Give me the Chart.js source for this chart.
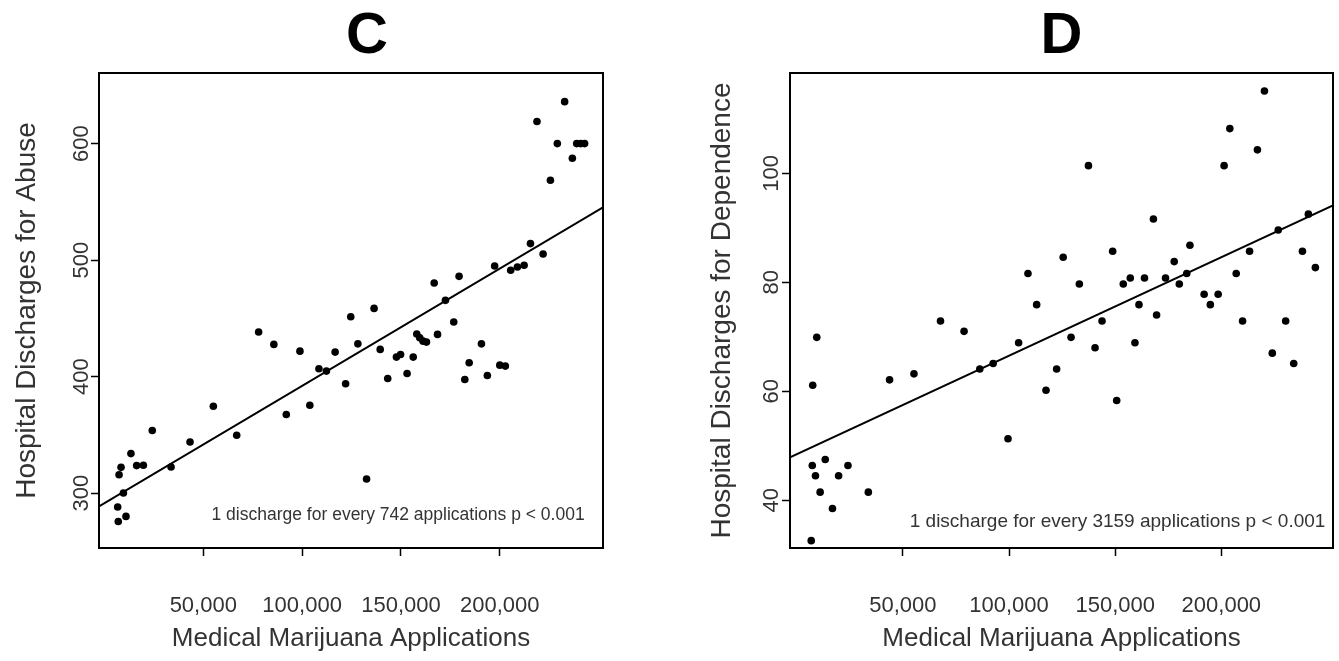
<!DOCTYPE html>
<html><head><meta charset="utf-8">
<script src="https://cdn.jsdelivr.net/npm/chart.js@4.4.1/dist/chart.umd.min.js"></script>
<style>
html,body{margin:0;padding:0;background:#fff;}
#wrap{position:relative;width:1339px;height:661px;overflow:hidden;background:#fff;}
.cv{position:absolute;top:0;}
</style></head><body>
<div id="wrap">
<div class="cv" style="left:0px"><canvas id="cC" width="680" height="661"></canvas></div>
<div class="cv" style="left:680px"><canvas id="cD" width="659" height="661"></canvas></div>
</div>
<script>
// ---------- Panel C: abuse ----------
const abuseApps = [232800,218800,229100,238900,240900,242900,236700,225600,215500,221900,197400,205500,208900,212300,179400,166800,172500,136400,124600,176700,78000,85700,98900,116700,128200,139500,158000,159500,161200,162900,168500,147700,149800,156200,153100,143300,190700,184500,182300,193700,200000,202800,108500,112300,122000,103900,92000,55100,66900,43300,24200,33700,13400,16300,19700,8400,7400,9600,6700,7000,10900,132600];
const abuseDischarges = [636,619,600,600,600,600,587.5,568.6,514.2,505.3,495.0,491.3,494.1,495.6,486.1,480.4,465.5,458.6,451.5,446.9,438.3,427.7,421.9,421.1,428.2,423.4,436.6,433.4,430.5,429.7,436.3,416.8,419.1,416.8,402.7,398.4,428.2,411.9,397.6,401.0,409.9,409.1,406.8,404.8,393.9,375.5,367.5,374.7,349.8,344.0,353.8,322.5,334.0,323.7,324.0,322.2,315.9,300.2,288.2,275.8,280.1,312.2];
const abuseFitX = [-2750, 252200];
const abuseFitY = [288.6, 545.4];
const abuseYTicks = [300, 400, 500, 600];
const abuseNote = "1 discharge for every 742 applications p < 0.001";
const abuseNoteAt = [242900, 281];

// ---------- Panel D: dependence ----------
const depApps = [220300,204000,217000,201300,137400,168000,241000,226800,185200,148800,125500,213300,238200,177800,244300,108900,183700,207000,157100,163800,173700,133100,153800,180200,191900,198500,194800,161200,113000,169500,143800,210000,230300,67700,78800,129200,9400,104500,159300,140500,224000,92500,234100,86200,122400,43700,55200,7500,117400,150700,99500,13400,7300,24100,8800,19700,11000,33700,16800,6800];
const depDischarges = [115.1,108.2,104.3,101.4,101.4,91.6,92.5,89.6,86.8,85.7,84.6,85.7,85.7,83.8,82.7,81.6,81.6,81.6,80.8,80.8,80.8,79.7,79.7,79.7,77.8,77.8,75.9,75.9,75.9,74.0,72.9,72.9,72.9,72.9,71.0,69.9,69.9,68.9,68.9,68.0,67.0,65.1,65.1,64.1,64.1,62.1,63.2,61.1,60.2,58.3,51.3,47.5,46.4,46.4,44.5,44.5,41.5,41.5,38.5,32.6];
const depFitX = [-3200, 252600];
const depFitY = [47.9, 94.1];
const depYTicks = [40, 60, 80, 100];
const depNote = "1 discharge for every 3159 applications p < 0.001";
const depNoteAt = [249000, 36];

// ---------- shared x axis ----------
const xTickValues = [50000, 100000, 150000, 200000];
const xTickLabels = ["50,000", "100,000", "150,000", "200,000"];

const FONT = "'Liberation Sans', Arial, sans-serif";
Chart.defaults.font.family = FONT;
Chart.defaults.color = '#333';

const boxPlugin = {
  id: 'box',
  afterDraw(chart) {
    const {ctx, chartArea: a} = chart;
    const o = chart.options.plugins.panel;
    ctx.save();
    ctx.strokeStyle = '#000';
    ctx.lineWidth = 2;
    ctx.strokeRect(a.left, a.top, a.right - a.left, a.bottom - a.top);
    // panel letter
    ctx.fillStyle = '#000';
    ctx.font = "bold 58px " + FONT;
    ctx.textAlign = 'center';
    ctx.textBaseline = 'middle';
    ctx.fillText(o.letter, (a.left + a.right) / 2 + o.letterDx, 37);
    // note
    const xs = chart.scales.x, ys = chart.scales.y;
    ctx.fillStyle = '#333';
    ctx.font = o.noteSize + "px " + FONT;
    ctx.textAlign = 'right';
    ctx.fillText(o.note, xs.getPixelForValue(o.noteAt[0]), ys.getPixelForValue(o.noteAt[1]));
    ctx.restore();
  }
};

function makeChart(id, cfg) {
  const pts = cfg.xs.map((x, i) => ({x, y: cfg.ys[i]}));
  const fit = cfg.fitX.map((x, i) => ({x, y: cfg.fitY[i]}));
  return new Chart(document.getElementById(id), {
    type: 'scatter',
    data: {
      datasets: [
        {data: pts, pointRadius: 3.8, pointHoverRadius: 3.8, backgroundColor: '#000', borderWidth: 0, showLine: false},
        {data: fit, showLine: true, borderColor: '#000', borderWidth: 2, pointRadius: 0, fill: false}
      ]
    },
    plugins: [boxPlugin],
    options: {
      responsive: false,
      animation: false,
      devicePixelRatio: 1,
      layout: {padding: {left: 0, right: cfg.padRight, top: 73, bottom: 0}},
      plugins: {
        legend: {display: false},
        tooltip: {enabled: false},
        title: {display: false},
        panel: {letter: cfg.title, letterDx: cfg.titleDx, note: cfg.note, noteAt: cfg.noteAt, noteSize: cfg.noteSize}
      },
      scales: {
        x: {
          type: 'linear', min: cfg.xMin, max: cfg.xMax,
          afterBuildTicks(s) { s.ticks = xTickValues.map(v => ({value: v})); },
          afterFit(s) { s.height = 113; },
          ticks: {autoSkip: false, maxRotation: 0, minRotation: 0, padding: 37,
            font: {size: 22}, color: '#333',
            callback: (v, i) => xTickLabels[i]},
          grid: {display: true, drawOnChartArea: false, drawTicks: true, tickLength: 8, tickColor: '#000', tickWidth: 1.5},
          border: {display: false},
          title: {display: true, text: 'Medical Marijuana Applications', color: '#333',
            font: {size: 26}, padding: {top: 0, bottom: 7}}
        },
        y: {
          type: 'linear', min: cfg.yMin, max: cfg.yMax,
          afterBuildTicks(s) { s.ticks = cfg.yTicks.map(v => ({value: v})); },
          afterFit(s) { s.width = cfg.yWidth; },
          ticks: {autoSkip: false, minRotation: 90, maxRotation: 90, crossAlign: 'center',
            padding: cfg.yTickPad, font: {size: 22}, color: '#333'},
          grid: {display: true, drawOnChartArea: false, drawTicks: true, tickLength: 8, tickColor: '#000', tickWidth: 1.5},
          border: {display: false},
          title: {display: true, text: cfg.yTitle, color: '#333',
            font: {size: 28}, padding: {top: cfg.yTitlePad, bottom: 0}}
        }
      }
    }
  });
}

makeChart('cC', {
  title: 'C', titleDx: 16, xs: abuseApps, ys: abuseDischarges, fitX: abuseFitX, fitY: abuseFitY,
  xMin: -2750, xMax: 252200, yMin: 253, yMax: 660.6, yTicks: abuseYTicks,
  yTitle: 'Hospital Discharges for Abuse', note: abuseNote, noteAt: abuseNoteAt, noteSize: 17.5,
  padRight: 77, yWidth: 99, yTickPad: -9, yTitlePad: 10
});
makeChart('cD', {
  title: 'D', titleDx: 0, xs: depApps, ys: depDischarges, fitX: depFitX, fitY: depFitY,
  xMin: -3200, xMax: 252600, yMin: 31.25, yMax: 118.4, yTicks: depYTicks,
  yTitle: 'Hospital Discharges for Dependence', note: depNote, noteAt: depNoteAt, noteSize: 19,
  padRight: 6, yWidth: 110, yTickPad: -8, yTitlePad: 25
});
</script>
</body></html>
